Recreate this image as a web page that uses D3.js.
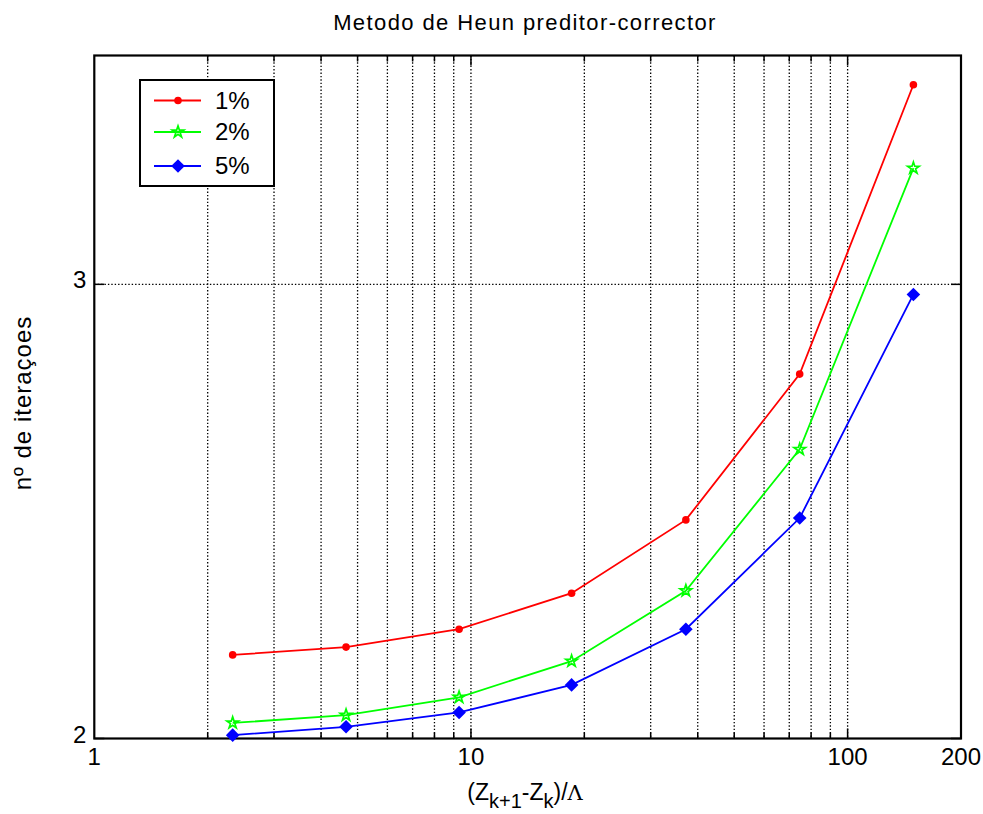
<!DOCTYPE html>
<html>
<head>
<meta charset="utf-8">
<script src="https://cdn.jsdelivr.net/npm/d3@7"></script>
<style>
  html, body { margin: 0; padding: 0; background: #fff; }
  svg { display: block; }
  text { font-family: "Liberation Sans", Arial, Helvetica, sans-serif; fill: #000; }
</style>
</head>
<body>
<svg id="chart" width="983" height="814"></svg>
<script>
// Step size ratio (x) and number of iterations (y) per tolerance
const stepRatio = [2.33, 4.66, 9.3, 18.5, 37.2, 74.6, 149.5];
const iter1 = [2.155, 2.170, 2.205, 2.277, 2.431, 2.769, 3.585];
const iter2 = [2.028, 2.042, 2.075, 2.143, 2.282, 2.589, 3.328];
const iter5 = [2.006, 2.021, 2.047, 2.098, 2.205, 2.435, 2.973];
const seriesNames = ["1%", "2%", "5%"];
const seriesColors = ["#ff0000", "#00ff00", "#0000ff"];
const seriesMarkers = ["circle", "star", "diamond"];
const xTickValues = [1, 10, 100, 200];
const xTickLabels = ["1", "10", "100", "200"];
const xGridValues = [2, 3, 4, 5, 6, 7, 8, 9, 10, 20, 30, 40, 50, 60, 70, 80, 90, 100];
const yTickValues = [2, 3];
const yTickLabels = ["2", "3"];
const xDomain = [1, 200];
const yDomain = [2, 3.68];

const svg = d3.select("#chart");
const plotL = 94.3, plotT = 55.5, plotR = 961, plotB = 738.5;

const x = d3.scaleLog().domain(xDomain).range([plotL, plotR]);
const y = d3.scaleLog().domain(yDomain).range([plotB, plotT]);

// dotted grid
const grid = svg.append("g").attr("stroke", "#000").attr("stroke-width", 1.3)
  .attr("stroke-dasharray", "1.4,2");
grid.selectAll("line.vx").data(xGridValues).join("line")
  .attr("x1", d => x(d)).attr("x2", d => x(d))
  .attr("y1", plotT).attr("y2", plotB);
grid.selectAll("line.hy").data([3]).join("line")
  .attr("x1", plotL).attr("x2", plotR)
  .attr("y1", d => y(d)).attr("y2", d => y(d));

// tick marks (inward, on all four sides)
const ticks = svg.append("g").attr("stroke", "#000").attr("stroke-width", 1.5);
xGridValues.forEach(v => {
  const len = (v === 10 || v === 100) ? 10 : 6;
  ticks.append("line").attr("x1", x(v)).attr("x2", x(v)).attr("y1", plotB).attr("y2", plotB - len);
  ticks.append("line").attr("x1", x(v)).attr("x2", x(v)).attr("y1", plotT).attr("y2", plotT + len);
});
yTickValues.forEach(v => {
  ticks.append("line").attr("x1", plotL).attr("x2", plotL + 10).attr("y1", y(v)).attr("y2", y(v));
  ticks.append("line").attr("x1", plotR).attr("x2", plotR - 10).attr("y1", y(v)).attr("y2", y(v));
});

// axis box
svg.append("rect").attr("x", plotL).attr("y", plotT)
  .attr("width", plotR - plotL).attr("height", plotB - plotT)
  .attr("fill", "none").attr("stroke", "#000").attr("stroke-width", 2.2);

// tick labels
svg.append("g").selectAll("text").data(xTickValues).join("text")
  .attr("x", d => x(d)).attr("y", 765)
  .attr("text-anchor", "middle").attr("font-size", 24)
  .text((d, i) => xTickLabels[i]);
svg.append("g").selectAll("text").data(yTickValues).join("text")
  .attr("x", plotL - 8).attr("y", d => y(d) + 4)
  .attr("text-anchor", "end").attr("font-size", 24)
  .text((d, i) => yTickLabels[i]);

// series
const allSeries = [iter1, iter2, iter5];
const line = d3.line().x(d => x(d[0])).y(d => y(d[1]));

function drawMarker(g, kind, color, cx, cy) {
  if (kind === "circle") {
    g.append("circle").attr("cx", cx).attr("cy", cy).attr("r", 3.8).attr("fill", color);
  } else if (kind === "star") {
    g.append("path").attr("transform", `translate(${cx},${cy})`)
      .attr("d", d3.symbol(d3.symbolStar, 42)())
      .attr("fill", "none").attr("stroke", color).attr("stroke-width", 1.7);
  } else {
    const r = 6.8;
    g.append("path").attr("transform", `translate(${cx},${cy})`)
      .attr("d", `M0,${-r}L${r},0L0,${r}L${-r},0Z`).attr("fill", color);
  }
}

allSeries.forEach((vals, i) => {
  const pts = stepRatio.map((s, j) => [s, vals[j]]);
  const g = svg.append("g");
  g.append("path").attr("d", line(pts)).attr("fill", "none")
    .attr("stroke", seriesColors[i]).attr("stroke-width", 1.8);
  pts.forEach(p => drawMarker(g, seriesMarkers[i], seriesColors[i], x(p[0]), y(p[1])));
});

// legend
const lg = svg.append("g");
lg.append("rect").attr("x", 140).attr("y", 80).attr("width", 134).attr("height", 106)
  .attr("fill", "#fff").attr("stroke", "#000").attr("stroke-width", 2);
const legendRows = [100.5, 132, 166];
seriesNames.forEach((name, i) => {
  const ry = legendRows[i];
  lg.append("line").attr("x1", 154).attr("x2", 201).attr("y1", ry).attr("y2", ry)
    .attr("stroke", seriesColors[i]).attr("stroke-width", 1.8);
  drawMarker(lg, seriesMarkers[i], seriesColors[i], 178, ry);
  lg.append("text").attr("x", 215).attr("y", ry + 8).attr("font-size", 24).text(name);
});

// title
svg.append("text").attr("x", 525).attr("y", 30).attr("text-anchor", "middle")
  .attr("font-size", 22).attr("letter-spacing", 1.4)
  .text("Metodo de Heun preditor-corrector");

// x label with subscripts
const xl = svg.append("text").attr("x", 525).attr("y", 800).attr("text-anchor", "middle")
  .attr("font-size", 23);
xl.append("tspan").text("(Z");
xl.append("tspan").attr("dy", 8).attr("font-size", 20).text("k+1");
xl.append("tspan").attr("dy", -8).text("-Z");
xl.append("tspan").attr("dy", 8).attr("font-size", 20).text("k");
xl.append("tspan").attr("dy", -8).text(")/");
xl.append("tspan").attr("font-family", "DejaVu Serif").attr("font-size", 21).text("Λ");

// y label
svg.append("text").attr("transform", "translate(31,403) rotate(-90)")
  .attr("text-anchor", "middle").attr("font-size", 24).attr("letter-spacing", 1)
  .text("nº de iteraçoes");
</script>
</body>
</html>
